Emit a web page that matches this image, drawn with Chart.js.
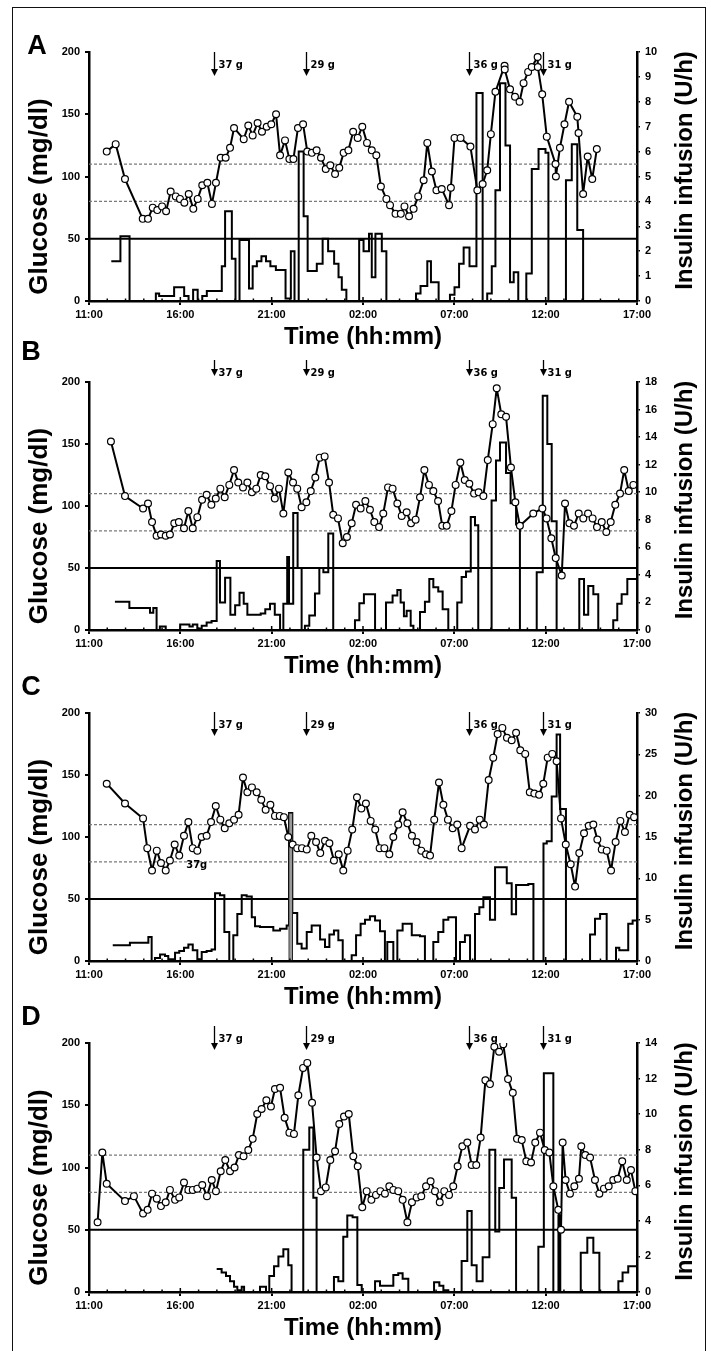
<!DOCTYPE html>
<html>
<head>
<meta charset="utf-8">
<script src="https://cdn.jsdelivr.net/npm/chart.js@4.4.1/dist/chart.umd.min.js"></script>
<style>
  html, body { margin: 0; padding: 0; background: #fff; }
  #page { position: relative; width: 711px; height: 1351px; overflow: hidden; background: #fff; }
  #frame { position: absolute; left: 12px; top: 7px; width: 694px; height: 1346px; border: 1.5px solid #111; box-sizing: border-box; }
  canvas { position: absolute; left: 0; }
</style>
</head>
<body>
<div id="page">
  <div id="frame"></div>
  <canvas id="chartA" width="711" height="351" style="top:0px"></canvas>
  <canvas id="chartB" width="711" height="351" style="top:330px"></canvas>
  <canvas id="chartC" width="711" height="351" style="top:661px"></canvas>
  <canvas id="chartD" width="711" height="351" style="top:991px"></canvas>
</div>
<script>
// x values are hours since 11:00 on day 1
const timeLabels = ['11:00', '16:00', '21:00', '02:00', '07:00', '12:00', '17:00'];
const glucoseTicks = [0, 50, 100, 150, 200];
const refLines = [80, 110];   // dashed target band
const refSolid = 50;
const mealTimes = [6.87, 11.88, 20.8, 24.84];
const mealLabels = ['37 g', '29 g', '36 g', '31 g'];

// ---- panel A ----
const gluA_t = [0.97,1.46,1.97,2.94,3.23,3.49,3.74,4.0,4.22,4.47,4.75,4.98,5.22,5.46,5.71,5.95,6.2,6.48,6.73,6.95,
  7.21,7.48,7.72,7.94,8.47,8.72,8.96,9.23,9.47,9.73,9.98,10.24,10.46,10.73,10.97,11.19,11.44,11.72,11.95,12.2,
  12.46,12.7,12.96,13.21,13.47,13.7,13.94,14.2,14.46,14.71,14.96,15.22,15.48,15.73,15.98,16.28,16.48,16.78,17.07,17.27,
  17.52,17.77,18.02,18.32,18.52,18.77,19.02,19.31,19.71,19.81,20.01,20.34,20.88,21.26,21.55,21.8,22.0,22.25,22.75,22.76,
  23.05,23.32,23.57,23.79,24.04,24.24,24.56,24.57,24.81,25.06,25.54,25.56,25.78,26.03,26.28,26.73,26.8,27.05,27.3,27.55,27.8];
const gluA_v = [120,126,98,66,66,75,73,76,72,88,84,82,79,86,74,82,93,95,78,95,
  115,115,123,139,130,141,133,143,136,140,142,150,117,129,114,114,139,142,120,119,
  121,115,106,109,102,107,119,121,136,131,140,127,121,117,92,82,77,70,70,76,
  68,74,84,97,127,104,89,90,77,91,131,131,124,89,94,105,134,168,189,186,
  170,164,160,175,184,188,196,188,166,132,110,100,123,142,160,148,135,86,116,98,122];
const insA_t = [1.22,1.72,2.22,3.66,3.84,4.66,5.21,5.45,5.7,5.95,6.2,6.45,7.27,7.45,7.82,8.02,8.24,8.76,8.96,9.19,
  9.44,9.69,9.93,10.23,10.76,11.05,11.25,11.48,11.75,11.97,12.47,12.79,13.09,13.42,13.66,13.84,14.09,14.79,15.03,15.33,
  15.48,15.68,16.03,16.28,17.9,18.15,18.52,18.72,19.14,19.76,20.01,20.26,20.51,20.83,21.21,21.55,21.8,22.05,22.25,22.5,
  22.8,23.05,23.25,23.5,23.94,24.24,24.61,24.99,25.15,26.11,26.43,26.73,27.05];
const insA_v = [1.6,2.6,0,0.3,0.2,0.55,0.2,0,0.45,0,0.2,0.4,1.4,3.6,1.7,0,2.45,0.5,1.4,1.6,
  1.8,1.6,1.4,1.25,0.1,2.0,0,6.0,3.4,1.2,1.5,2.5,2.0,1.5,0.95,0.45,0,2.45,2.0,2.7,
  0.95,2.7,2.0,0,0.3,0.6,1.6,0.75,0,0.25,0.55,1.5,2.15,1.4,8.35,0,0.3,1.4,4.45,8.75,
  6.25,0.75,1.15,0,1.1,5.3,6.1,5.95,0,4.85,6.3,2.85,0];

// ---- panel B ----
const gluB_t = [1.2,1.97,2.96,3.23,3.45,3.7,3.94,4.2,4.43,4.67,4.92,5.2,5.44,5.68,5.93,6.19,6.44,6.7,6.94,7.19,
  7.43,7.68,7.94,8.17,8.43,8.67,8.92,9.16,9.4,9.65,9.91,10.17,10.4,10.64,10.91,11.17,11.4,11.64,11.9,12.14,
  12.39,12.63,12.9,13.14,13.37,13.63,13.89,14.12,14.38,14.62,14.87,15.13,15.38,15.62,15.88,16.11,16.37,16.62,16.88,17.12,
  17.39,17.63,17.88,18.12,18.36,18.61,18.85,19.11,19.34,19.58,19.84,20.07,20.33,20.57,20.82,21.08,21.33,21.59,21.83,22.1,
  22.32,22.57,22.83,23.1,23.34,23.59,24.32,24.82,25.05,25.31,25.55,25.88,26.06,26.3,26.55,26.81,27.06,27.32,27.57,27.81,
  28.07,28.32,28.56,28.81,29.07,29.3,29.55,29.8];
const gluB_v = [152,108,98,102,87,76,77,76,77,86,87,82,96,82,91,105,109,101,106,114,
  107,117,129,119,115,119,111,114,125,124,116,106,114,94,127,119,114,99,103,112,
  123,139,140,119,93,90,70,75,86,101,98,104,97,87,83,94,115,114,102,92,
  95,86,89,107,129,117,112,104,84,84,96,117,135,121,118,110,111,108,137,166,
  195,174,172,131,103,84,94,98,90,74,58,44,102,86,84,94,90,94,90,83,
  87,79,87,101,110,129,112,117];
const insB_t = [1.42,2.21,3.34,3.52,3.7,3.88,4.2,4.99,5.5,5.68,5.93,6.17,6.44,6.71,6.99,7.17,7.45,7.74,8.0,8.24,
  8.47,8.67,9.4,9.65,9.91,10.17,10.46,10.64,10.85,10.95,11.18,11.42,11.64,11.82,12.06,12.37,12.61,12.83,13.1,13.37,
  14.56,14.8,15.05,15.66,16.26,16.62,16.88,17.06,17.24,17.39,17.61,17.76,18.12,18.39,18.63,18.85,19.12,19.36,19.67,20.16,
  20.4,20.64,20.9,21.13,21.31,22.04,22.28,22.5,22.83,23.08,23.38,23.59,24.51,24.84,25.09,25.33,25.6,26.84,27.1,27.33,
  27.61,27.88,28.7,28.92,29.16,29.47,30];
const insB_v = [2.05,1.6,1.25,1.6,0,0.25,0,0.4,0.25,0.4,0.1,0.3,0.55,0.65,5.0,2.0,3.8,1.1,1.8,2.7,
  1.9,1.1,1.2,1.5,1.9,1.1,0,1.9,5.3,1.9,8.5,4.5,0,0.3,1.05,2.65,4.5,4.2,7.0,0,
  0.7,1.95,2.6,0,2.0,2.5,2.9,2.0,1.0,1.4,0.3,0,1.3,2.05,3.7,3.1,2.8,1.5,0,2.0,
  3.85,4.25,8.2,7.6,0,9.4,12.3,13.6,11.4,9.2,7.65,0,4.2,17.0,13.5,7.9,0,3.7,1.1,3.2,
  2.6,0,0.7,1.9,2.6,3.7,3.7];

// ---- panel C ----
const gluC_t = [0.97,1.97,2.96,3.19,3.45,3.71,3.94,4.2,4.43,4.69,4.94,5.2,5.44,5.68,5.93,6.17,6.44,6.68,6.94,7.19,
  7.43,7.68,7.94,8.19,8.43,8.67,8.92,9.18,9.43,9.67,9.93,10.18,10.44,10.67,10.91,11.15,11.4,11.66,11.92,12.17,
  12.43,12.66,12.92,13.16,13.41,13.67,13.92,14.16,14.41,14.67,14.91,15.16,15.42,15.67,15.91,16.17,16.44,16.66,16.93,17.17,
  17.43,17.68,17.94,18.19,18.45,18.67,18.9,19.16,19.4,19.65,19.91,20.16,20.4,20.86,21.13,21.39,21.62,21.88,22.13,22.37,
  22.63,22.88,23.14,23.38,23.61,23.88,24.13,24.38,24.64,24.87,25.11,25.36,25.6,25.84,26.1,26.37,26.61,26.84,27.1,27.36,
  27.61,27.83,28.07,28.34,28.58,28.83,29.09,29.34,29.6,29.84];
const gluC_v = [143,127,115,91,73,89,79,73,81,94,85,101,112,91,89,100,101,112,125,114,
  107,111,114,118,148,136,140,136,130,122,126,117,117,116,100,94,91,91,90,101,
  96,87,97,95,81,86,73,89,106,132,123,127,113,106,91,91,86,100,110,120,
  111,101,96,89,86,85,114,144,126,114,107,110,91,109,106,114,110,146,164,183,
  188,180,178,184,170,167,136,135,134,143,164,167,161,115,94,78,60,87,103,109,
  110,98,90,89,73,96,113,104,118,116];
const insC_t = [1.3,2.24,3.25,3.43,3.61,3.89,4.16,4.34,4.71,4.94,5.2,5.44,5.68,5.93,6.17,6.44,6.71,6.9,7.17,7.41,
  7.68,7.9,8.12,8.36,8.63,8.91,9.09,9.36,10.09,10.46,10.82,10.95,11.13,11.4,11.64,11.92,12.19,12.65,12.92,13.16,
  13.41,13.65,13.89,14.38,14.62,14.87,15.11,15.38,15.66,15.93,16.2,16.33,16.66,16.88,17.17,17.67,18.12,18.39,18.85,19.12,
  19.4,19.67,20.09,20.31,20.58,20.86,21.13,21.37,21.59,21.95,22.23,22.87,23.14,23.38,24.05,24.33,24.88,25.06,25.33,25.6,
  25.79,26.11,27.43,27.7,27.98,28.34,28.85,29.03,29.52,29.76,30];
const insC_v = [1.9,2.2,2.9,0,0.35,0.8,0.6,0.2,1.0,1.2,1.6,2.0,1.3,0.2,1.1,1.2,1.4,8.2,7.95,3.5,
  0,3.1,5.7,7.95,7.8,5.3,4.2,4.1,3.7,3.9,4.3,17.9,5.8,2.1,1.5,3.5,4.3,2.6,1.7,3.2,
  3.7,2.5,0,0.7,3.1,4.5,5.0,5.4,4.9,3.6,0,2.3,0,3.7,4.5,3.1,3.0,0,2.3,3.5,
  5.0,5.3,0,2.3,3.1,0,5.7,6.5,7.7,5.0,11.35,9.4,5.65,9.2,9.3,0,14.2,14.5,19.9,27.4,
  18.4,0,3.2,5.1,5.7,0,1.6,1.3,4.5,4.9,4.9];
const spikeC_t = [11.04];   // grey bolus bar
const spikeC_v = [17.9];

// ---- panel D ----
const gluD_t = [0.47,0.73,0.97,1.97,2.46,2.96,3.21,3.45,3.71,3.94,4.2,4.43,4.71,4.94,5.2,5.44,5.68,5.93,6.2,6.46,
  6.72,6.95,7.21,7.46,7.72,7.97,8.21,8.46,8.72,8.96,9.21,9.45,9.71,9.96,10.18,10.46,10.71,10.97,11.22,11.46,
  11.72,11.95,12.21,12.46,12.7,12.96,13.21,13.47,13.7,13.96,14.22,14.47,14.71,14.96,15.2,15.46,15.71,15.95,16.2,16.44,
  16.66,16.93,17.17,17.43,17.68,17.94,18.19,18.45,18.7,18.94,19.2,19.45,19.71,19.94,20.18,20.44,20.71,20.95,21.2,21.44,
  21.7,21.95,22.19,22.45,22.68,22.94,23.2,23.43,23.69,23.94,24.2,24.43,24.69,24.95,25.2,25.42,25.69,25.84,25.93,26.09,
  26.33,26.57,26.82,26.95,27.17,27.43,27.7,27.94,28.19,28.45,28.7,28.94,29.19,29.44,29.67,29.91];
const gluD_v = [56,112,87,73,77,63,66,79,75,69,72,82,74,76,88,82,82,83,86,77,
  90,81,97,106,97,100,110,109,114,123,143,147,154,149,163,164,140,128,127,158,
  180,184,152,108,81,84,106,113,135,141,143,109,101,68,81,74,78,81,79,85,
  82,81,74,56,72,76,77,85,89,81,72,81,78,85,101,117,120,102,102,124,
  170,167,197,193,199,171,160,123,122,105,104,120,128,114,112,85,66,50,120,90,
  79,85,91,117,110,108,90,79,83,85,90,91,105,90,98,81];
const insD_t = [6.99,7.26,7.5,7.72,7.94,8.12,8.36,8.49,9.36,9.69,9.87,10.13,10.37,10.64,10.91,11.09,11.73,12.06,12.28,12.46,
  13.41,13.65,13.92,14.14,14.43,14.69,14.93,15.66,15.93,16.66,16.93,17.17,17.48,18.89,19.18,19.4,19.67,20.4,20.71,20.95,
  21.22,21.55,21.92,22.24,22.46,22.72,23.14,23.38,24.6,24.9,25.42,25.7,25.8,26.92,27.28,27.61,27.94,28.98,29.21,29.52,30];
const insD_v = [1.3,1.1,0.9,0.6,0.3,0.1,0.3,0,0.3,0,0.9,1.45,2.0,2.4,1.5,0,8.0,9.25,5.3,0,
  0.85,0.6,3.1,4.3,4.2,0.4,0,0.6,0.35,0.95,1.05,0.75,0,0.55,0.35,0.1,0,1.75,4.55,1.5,
  0.6,1.95,8.0,3.4,5.85,7.45,5.3,0,2.55,12.3,0,4.3,0,2.2,3.05,2.2,0,0.6,1.1,1.45,1.45];

const FONT = '"Liberation Sans", Arial, Helvetica, sans-serif';
const NARROW = '"Liberation Sans Narrow", "DejaVu Sans Condensed", "Liberation Sans", Arial, sans-serif';

function pts(ts, vs) {
  return ts.map((t, i) => ({ x: t, y: vs[i] }));
}

function flat(v) {
  return [{ x: 0, y: v }, { x: 30, y: v }];
}

// text, arrows and the small hour ticks
const decor = {
  id: 'decor',
  afterDraw(chart, args, o) {
    const { ctx, chartArea: a, scales: { x, y } } = chart;
    ctx.save();
    ctx.strokeStyle = '#000';
    ctx.fillStyle = '#000';

    // hour ticks inside the x axis
    ctx.lineWidth = 1.5;
    for (let h = 1; h < 30; h++) {
      const px = x.getPixelForValue(h);
      const len = h % 5 === 0 ? 4 : 2.5;
      ctx.beginPath();
      ctx.moveTo(px, a.bottom);
      ctx.lineTo(px, a.bottom - len);
      ctx.stroke();
    }

    // meal arrows
    ctx.font = 'bold 11px ' + NARROW;
    ctx.textBaseline = 'middle';
    ctx.textAlign = 'left';
    mealTimes.forEach((t, i) => {
      const px = Math.round(x.getPixelForValue(t)) + 0.5;
      const y0 = a.top + o.arrowTop;
      const y1 = a.top + o.arrowBot;
      ctx.lineWidth = 1.3;
      ctx.beginPath();
      ctx.moveTo(px, y0);
      ctx.lineTo(px, y1 - 5);
      ctx.stroke();
      ctx.beginPath();
      ctx.moveTo(px - 3.5, y1 - 7);
      ctx.lineTo(px + 3.5, y1 - 7);
      ctx.lineTo(px, y1);
      ctx.closePath();
      ctx.fill();
      ctx.fillText(mealLabels[i], px + 4, a.top + o.labelDy);
    });

    // stray label in panel C
    if (o.extra) {
      ctx.textAlign = 'center';
      ctx.fillText(o.extra.text, x.getPixelForValue(o.extra.x), y.getPixelForValue(o.extra.y));
    }

    // panel letter
    ctx.font = 'bold 27px ' + FONT;
    ctx.textAlign = 'center';
    ctx.fillText(o.letter, o.letterX, a.top + o.letterDy);

    // axis titles
    const mid = (a.top + a.bottom) / 2;
    ctx.font = 'bold 26px ' + FONT;
    ctx.save();
    ctx.translate(40, mid + 20);
    ctx.rotate(-Math.PI / 2);
    ctx.fillText('Glucose (mg/dl)', 0, 0);
    ctx.restore();

    ctx.font = 'bold 24px ' + FONT;
    ctx.save();
    ctx.translate(685, mid - 6);
    ctx.rotate(-Math.PI / 2);
    ctx.fillText('Insulin infusion (U/h)', 0, 0);
    ctx.restore();

    ctx.fillText('Time (hh:mm)', (a.left + a.right) / 2, a.bottom + 36);
    ctx.restore();
  }
};

function makePanel(id, cfg) {
  const datasets = [
    {
      label: 'Glucose', data: pts(cfg.gt, cfg.gv), yAxisID: 'y',
      borderColor: '#000', borderWidth: 2, tension: 0, borderJoinStyle: 'round',
      pointRadius: 3.4, pointBackgroundColor: '#fff', pointBorderColor: '#000', pointBorderWidth: 1.2,
      order: 0
    },
    {
      label: 'Insulin', data: pts(cfg.it, cfg.iv), yAxisID: 'y2', stepped: 'before',
      borderColor: '#000', borderWidth: 2, pointRadius: 0, order: 2
    },
    {
      label: 'ref50', data: flat(refSolid), yAxisID: 'y',
      borderColor: '#000', borderWidth: 2, pointRadius: 0, order: 4
    }
  ];
  refLines.forEach(v => datasets.push({
    label: 'ref' + v, data: flat(v), yAxisID: 'y',
    borderColor: '#7a7a7a', borderWidth: 1.2, borderDash: [3, 2], pointRadius: 0, order: 5
  }));
  if (cfg.st) {
    datasets.push({
      type: 'bar', label: 'bolus', data: pts(cfg.st, cfg.sv), yAxisID: 'y2',
      backgroundColor: '#9a9a9a', borderColor: '#222', borderWidth: 1, barThickness: 4, order: 1
    });
  }

  const tickFont = { family: FONT, size: 11, weight: 'bold' };
  const axisGrid = { display: true, drawOnChartArea: false, drawTicks: true, tickLength: 4, color: '#000', lineWidth: 2, offset: false };
  const axisBorder = { display: true, color: '#000', width: 2.5 };
  const plotH = cfg.plotH;

  return new Chart(document.getElementById(id), {
    type: 'line',
    data: { datasets },
    options: {
      responsive: false,
      animation: false,
      layout: { padding: { top: 52, left: 0, right: 0, bottom: 0 } },
      plugins: {
        legend: { display: false },
        tooltip: { enabled: false },
        decor: cfg.decor
      },
      scales: {
        x: {
          type: 'linear', min: 0, max: 30, offset: false,
          border: axisBorder, grid: axisGrid,
          ticks: {
            stepSize: 5, autoSkip: false, maxRotation: 0, padding: 3, color: '#000', font: tickFont,
            callback: v => timeLabels[Math.round(v / 5)]
          },
          afterFit: s => { s.height = 351 - 52 - plotH; }
        },
        y: {
          type: 'linear', position: 'left', min: 0, max: 200,
          border: axisBorder, grid: axisGrid,
          afterBuildTicks: s => { s.ticks = glucoseTicks.map(v => ({ value: v })); },
          ticks: { padding: 5, color: '#000', font: tickFont },
          afterFit: s => { s.width = 89; }
        },
        y2: {
          type: 'linear', position: 'right', min: 0, max: cfg.imax,
          border: axisBorder, grid: Object.assign({}, axisGrid, { lineWidth: 1.5, tickLength: 3 }),
          ticks: { stepSize: cfg.istep, padding: 5, color: '#000', font: tickFont },
          afterFit: s => { s.width = 74; }
        }
      }
    },
    plugins: [decor]
  });
}

makePanel('chartA', {
  gt: gluA_t, gv: gluA_v, it: insA_t, iv: insA_v, imax: 10, istep: 1, plotH: 249,
  decor: { letter: 'A', letterX: 37, letterDy: -5, arrowTop: 0, arrowBot: 24, labelDy: 13 }
});
makePanel('chartB', {
  gt: gluB_t, gv: gluB_v, it: insB_t, iv: insB_v, imax: 18, istep: 2, plotH: 248,
  decor: { letter: 'B', letterX: 31, letterDy: -29, arrowTop: -22, arrowBot: -6, labelDy: -9 }
});
makePanel('chartC', {
  gt: gluC_t, gv: gluC_v, it: insC_t, iv: insC_v, st: spikeC_t, sv: spikeC_v, imax: 30, istep: 5, plotH: 248,
  decor: { letter: 'C', letterX: 31, letterDy: -25, arrowTop: -1, arrowBot: 23, labelDy: 12, extra: { text: '37g', x: 5.9, y: 77 } }
});
makePanel('chartD', {
  gt: gluD_t, gv: gluD_v, it: insD_t, iv: insD_v, imax: 14, istep: 2, plotH: 249,
  decor: { letter: 'D', letterX: 31, letterDy: -25, arrowTop: -17, arrowBot: 7, labelDy: -4 }
});
</script>
</body>
</html>
